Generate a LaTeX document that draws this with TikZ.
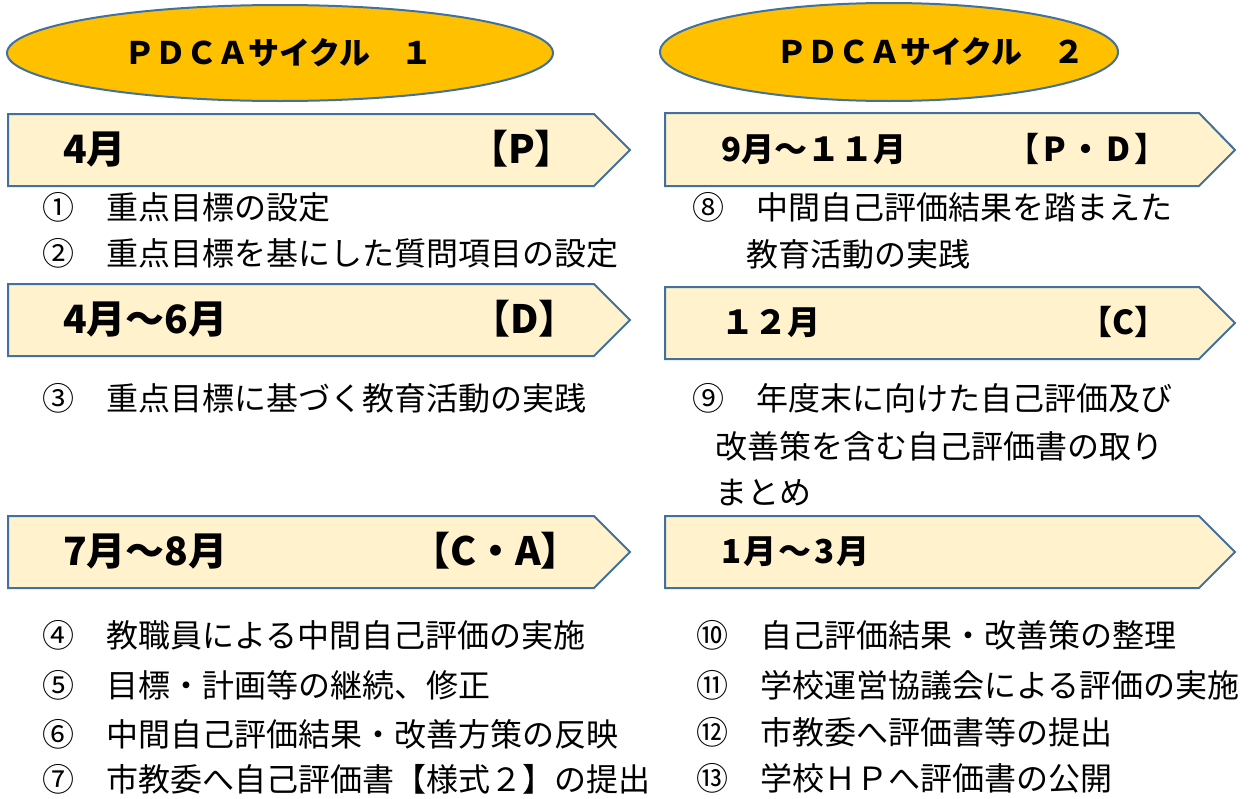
\documentclass[tikz,border=0pt]{standalone}
\usepackage{fontspec}
\setmainfont{Noto Sans CJK JP}
\newfontfamily\jp{Noto Sans CJK JP}
\definecolor{ellfill}{HTML}{FFC000}
\definecolor{penfill}{HTML}{FFF2CC}
\definecolor{edge}{HTML}{41719C}
\begin{document}
\begin{tikzpicture}[x=1pt,y=-1pt,
  ell/.style={draw=edge,fill=ellfill,line width=2pt},
  pent/.style={draw=edge,fill=penfill,line width=2pt,line join=miter},
  ttl/.style={anchor=west,inner sep=0pt,yshift=-8pt,font=\jp\bfseries\fontsize{31}{36}\selectfont,text height=0.88em,text depth=0.12em},
  lbl/.style={inner sep=0pt,yshift=-8pt,font=\jp\bfseries\fontsize{33}{38}\selectfont,text height=0.88em,text depth=0.12em},
  lblL/.style={inner sep=0pt,yshift=-9.5pt,font=\jp\bfseries\fontsize{39}{44}\selectfont,text height=0.88em,text depth=0.12em},
  item/.style={anchor=west,inner sep=0pt,yshift=-8pt,font=\jp\fontsize{32}{38}\selectfont,text height=0.88em,text depth=0.12em}]
\useasboundingbox (0,0) rectangle (1253,798);
% ellipses
\draw[ell] (280,53) ellipse [x radius=273, y radius=48];
\draw[ell] (889,52) ellipse [x radius=229, y radius=49];
\node[ttl] (t1) at (124,53) {ＰＤＣＡサイクル　１};
\node[ttl] (t2) at (776,52) {ＰＤＣＡサイクル　２};
% left pentagons
\draw[pent] (8,114) -- (594,114) -- (630,150) -- (594,186) -- (8,186) -- cycle;
\draw[pent] (8,284) -- (594,284) -- (630,320) -- (594,356) -- (8,356) -- cycle;
\draw[pent] (8,516) -- (594,516) -- (630,552) -- (594,588) -- (8,588) -- cycle;
% right pentagons
\draw[pent] (665,113) -- (1199,113) -- (1235,150) -- (1199,186) -- (665,186) -- cycle;
\draw[pent] (665,287) -- (1199,287) -- (1235,323) -- (1199,359) -- (665,359) -- cycle;
\draw[pent] (665,516) -- (1199,516) -- (1235,552) -- (1199,588) -- (665,588) -- cycle;
% labels
\node[lblL,anchor=west] (m1) at (63,150) {4月};
\node[lblL,anchor=east] (c1) at (574,150) {【P】};
\node[lblL,anchor=west] (m2) at (63,320) {4月～6月};
\node[lblL,anchor=east] (c2) at (578,320) {【D】};
\node[lblL,anchor=west] (m3) at (63,552) {7月～8月};
\node[lblL,anchor=east] (c3) at (580,552) {【C・A】};
\node[lbl,anchor=west] (m4) at (721,150) {9月～１１月};
\node[lbl,anchor=east] (c4) at (1168,150) {\addfontfeature{LetterSpace=12}【P・D】};
\node[lbl,anchor=west] (m5) at (721,323) {１２月};
\node[lbl,anchor=east] (c5) at (1168,323) {【C】};
\node[lbl,anchor=west] (m6) at (721,552) {\addfontfeature{LetterSpace=7}1月～3月};
% left items
\node[item] (i1) at (42,208) {①　重点目標の設定};
\node[item] (i2) at (42,254) {②　重点目標を基にした質問項目の設定};
\node[item] (i3) at (42,399) {③　重点目標に基づく教育活動の実践};
\node[item] (i4) at (42,636) {④　教職員による中間自己評価の実施};
\node[item] (i5) at (42,686) {⑤　目標・計画等の継続、修正};
\node[item] (i6) at (42,735) {⑥　中間自己評価結果・改善方策の反映};
\node[item] (i7) at (42,780) {⑦　市教委へ自己評価書【様式２】の提出};
% right items
\node[item] (i8) at (692,208) {⑧　中間自己評価結果を踏まえた};
\node[item] (i8b) at (746,255) {教育活動の実践};
\node[item] (i9) at (692,399) {⑨　年度末に向けた自己評価及び};
\node[item] (i9b) at (715,447) {改善策を含む自己評価書の取り};
\node[item] (i9c) at (715,493) {まとめ};
\node[item] (i10) at (696,636) {⑩　自己評価結果・改善策の整理};
\node[item] (i11) at (696,686) {⑪　学校運営協議会による評価の実施};
\node[item] (i12) at (696,733) {⑫　市教委へ評価書等の提出};
\node[item] (i13) at (696,779) {⑬　学校ＨＰへ評価書の公開};
\end{tikzpicture}
\end{document}
